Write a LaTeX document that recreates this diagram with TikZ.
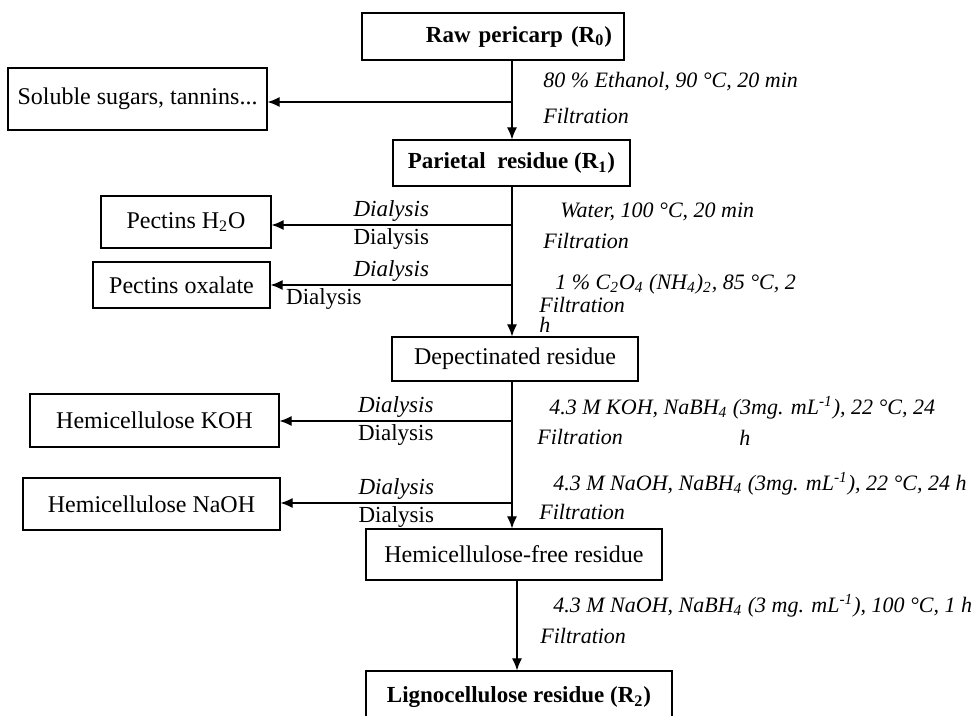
\documentclass[tikz,border=0pt]{standalone}
\usepackage{fontspec}
\setmainfont{Liberation Serif}
\usetikzlibrary{arrows.meta,calc}
\tikzset{
    box/.style={draw, semithick, inner sep=0pt, font=\fontsize{12}{14}\selectfont},
    flow/.style={semithick, -{Latex[length=6pt,width=5pt]}},
    cond/.style={anchor=west, inner sep=0pt, font=\fontsize{11}{13}\selectfont\itshape},
    dial/.style={inner sep=1.5pt, font=\fontsize{11.5}{13}\selectfont},
    dialit/.style={dial, font=\fontsize{11.5}{13}\selectfont\itshape},
  }

\begin{document}
\begin{tikzpicture}[x=0.5pt,y=-0.5pt]
				  \useasboundingbox (0,0) rectangle (971,716);
				  %the main column: boxes at their centres, sizes in px
				  %side boxes on the left, arrows go back from the main line
				  
				  %RAW PERICARP
				  \node[box, minimum width=131pt, minimum height=23.5pt, text width=119pt, align=right] (R0) at (493,36.5) {\fontsize{11.5}{14}\selectfont\textbf{Raw pericarp (R\textsubscript{0})}};
				  \node[box, minimum width=129.5pt, minimum height=31pt] (sugars) at (137.5,99) {Soluble sugars, tannins...};
				  \coordinate (s1) at (512,102);
				  \draw[semithick] (R0.south -| s1) -- (s1);
				  \draw[flow] (s1) -- (s1 -| sugars.east);
				  \node[cond] (cond1) at (543,82) {80 \% Ethanol, 90 °C, 20 min};
				  \node[cond] (filt1) at (543,116) {Filtration};
				  
				  %PARIETAL RESIDUE
				  \node[box, minimum width=118.5pt, minimum height=23pt] (R1) at (511.5,163) {\fontsize{11.5}{14}\selectfont\textbf{Parietal\ \ residue (R\textsubscript{1})}};
				  \draw[flow] (s1) -- (s1 |- R1.north);
				  
				  %PECTINS
				  \node[box, minimum width=85pt, minimum height=26pt] (pectH2O) at (186,222) {Pectins H\textsubscript{2}O};
				  \node[box, minimum width=88.5pt, minimum height=23pt] (pectOx) at (181.5,285) {Pectins oxalate};
				  \coordinate (s2) at (511,225);
				  \coordinate (s3) at (512,285);
				  \draw[flow] (s2) -- node[dialit, above]{Dialysis} node[dial, below]{Dialysis} (s2 -| pectH2O.east);
				  \draw[flow] (s3) -- node[dialit, above]{Dialysis} (s3 -| pectOx.east) node[dial, below right, xshift=6pt]{Dialysis};
				  \node[cond] (cond2) at (560,212) {Water, 100 °C, 20 min};
				  \node[cond] (filt2) at (543,241) {Filtration};
				  \node[cond] (cond3) at (555,284) {1 \% C\textsubscript{2}O\textsubscript{4} (NH\textsubscript{4})\textsubscript{2}, 85 °C, 2};
				  \node[cond] (filt3) at (539,305) {Filtration};
				  \node[cond] (h3) at (539,325) {h};
				  
				  %DEPECTINATED RESIDUE
				  \node[box, minimum width=123pt, minimum height=22pt] (Rdep) at (515,359) {Depectinated residue};
				  \draw[flow] (R1.south -| s1) -- (s1 |- Rdep.north);
				  
				  %HEMICELLULOSES
				  \node[box, minimum width=124.5pt, minimum height=26.5pt] (hemiKOH) at (154.5,420.5) {Hemicellulose KOH};
				  \node[box, minimum width=128.5pt, minimum height=26pt] (hemiNaOH) at (151.5,504) {Hemicellulose NaOH};
				  \coordinate (s4) at (512,421);
				  \coordinate (s5) at (512,503);
				  \draw[flow] (s4) -- node[dialit, above]{Dialysis} node[dial, below]{Dialysis} (s4 -| hemiKOH.east);
				  \draw[flow] (s5) -- node[dialit, above]{Dialysis} node[dial, below]{Dialysis} (s5 -| hemiNaOH.east);
				  \node[cond] (cond4) at (549,408) {4.3 M KOH, NaBH\textsubscript{4} (3mg. mL\textsuperscript{-1}), 22 °C, 24};
				  \node[cond] (filt4) at (537,437) {Filtration};
				  \node[cond] (h4) at (739,438) {h};
				  \node[cond] (cond5) at (553,484) {4.3 M NaOH, NaBH\textsubscript{4} (3mg. mL\textsuperscript{-1}), 22 °C, 24 h};
				  \node[cond] (filt5) at (539,512) {Filtration};
				  
				  %HEMICELLULOSE-FREE RESIDUE
				  \node[box, minimum width=148pt, minimum height=25.5pt] (Rhemi) at (514,554.5) {Hemicellulose-free residue};
				  \draw[flow] (Rdep.south -| s5) -- (s5 |- Rhemi.north);
				  
				  %LIGNOCELLULOSE RESIDUE
				  \node[box, minimum width=153pt, minimum height=26pt] (R2) at (519,697) {\fontsize{11.5}{14}\selectfont\textbf{Lignocellulose residue (R\textsubscript{2})}};
				  \coordinate (s6) at (517,580);
				  \draw[flow] (s6) -- (s6 |- R2.north);
				  \node[cond] (cond6) at (553,606) {4.3 M NaOH, NaBH\textsubscript{4} (3 mg. mL\textsuperscript{-1}), 100 °C, 1 h};
				  \node[cond] (filt6) at (540,636) {Filtration};
				  \end{tikzpicture}
\end{document}
